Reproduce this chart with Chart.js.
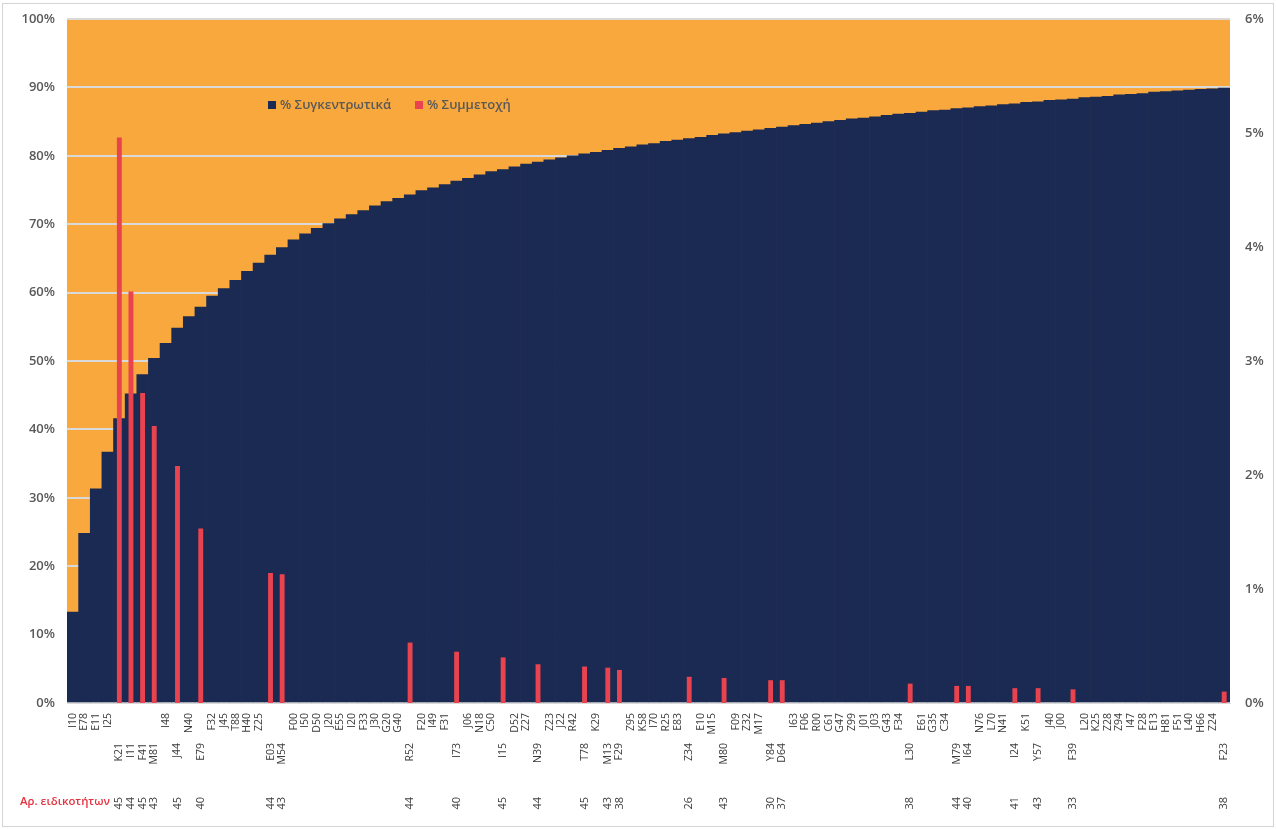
<!DOCTYPE html>
<html lang="el">
<head>
<meta charset="UTF-8">
<title>Συγκεντρωτικά ποσοστά ανά διάγνωση</title>
<script src="https://cdn.jsdelivr.net/npm/chart.js"></script>
<style>
    html, body { margin: 0; padding: 0; background: #fff; }
    .frame {
        position: absolute; left: 2px; top: 3px;
        width: 1272px; height: 824px;
        border: 1px solid #d4d4d4; box-sizing: border-box;
    }
    canvas { display: block; }
</style>
</head>
<body>
<div class="frame"><canvas id="paretoChart"></canvas></div>
<script>
// Diagnosis codes, in chart order
const codes = [
    'I10','E78','E11','I25','K21','I11','F41','M81','I48','J44',
    'N40','E79','F32','J45','T88','H40','Z25','E03','M54','F00',
    'I50','D50','J20','E55','I20','F33','J30','G20','G40','R52',
    'F20','I49','F31','I73','J06','N18','C50','I15','D52','Z27',
    'N39','Z23','J22','R42','T78','K29','M13','F29','Z95','K58',
    'I70','R25','E83','Z34','E10','M15','M80','F09','Z32','M17',
    'Y84','D64','I63','F06','R00','C61','G47','Z99','J01','J03',
    'G43','F34','L30','E61','G35','C34','M79','I64','N76','L70',
    'N41','I24','K51','Y57','J40','J00','F39','L20','K25','Z28',
    'Z94','I47','F28','E13','H81','F51','L40','H66','Z24','F23'
];

// % Συγκεντρωτικά (left axis)
const cumulative = [
    13.3, 24.8, 31.3, 36.7, 41.6, 45.2, 48.0, 50.4, 52.6, 54.8,
    56.5, 57.9, 59.5, 60.6, 61.8, 63.1, 64.3, 65.5, 66.6, 67.7,
    68.6, 69.4, 70.1, 70.8, 71.4, 72.0, 72.7, 73.3, 73.8, 74.3,
    74.9, 75.3, 75.8, 76.3, 76.7, 77.2, 77.7, 78.0, 78.4, 78.8,
    79.1, 79.4, 79.7, 80.0, 80.3, 80.5, 80.8, 81.1, 81.3, 81.6,
    81.8, 82.1, 82.3, 82.5, 82.7, 83.0, 83.2, 83.4, 83.6, 83.8,
    84.0, 84.2, 84.4, 84.6, 84.8, 85.0, 85.2, 85.4, 85.5, 85.7,
    85.9, 86.1, 86.2, 86.4, 86.6, 86.7, 86.9, 87.0, 87.2, 87.3,
    87.5, 87.6, 87.8, 87.9, 88.1, 88.2, 88.3, 88.5, 88.6, 88.7,
    88.9, 89.0, 89.1, 89.3, 89.4, 89.5, 89.6, 89.7, 89.8, 89.9
];

// % Συμμετοχή (right axis), only for some codes
const share = [
    null, null, null, null, 4.96, 3.61, 2.72, 2.43, null, 2.08,
    null, 1.53, null, null, null, null, null, 1.14, 1.13, null,
    null, null, null, null, null, null, null, null, null, 0.53,
    null, null, null, 0.45, null, null, null, 0.40, null, null,
    0.34, null, null, null, 0.32, null, 0.31, 0.29, null, null,
    null, null, null, 0.23, null, null, 0.22, null, null, null,
    0.20, 0.20, null, null, null, null, null, null, null, null,
    null, null, 0.17, null, null, null, 0.15, 0.15, null, null,
    null, 0.13, null, 0.13, null, null, 0.12, null, null, null,
    null, null, null, null, null, null, null, null, null, 0.10
];

// Αρ. ειδικοτήτων
const specialties = [
    null, null, null, null, 45, 44, 45, 43, null, 45,
    null, 40, null, null, null, null, null, 44, 43, null,
    null, null, null, null, null, null, null, null, null, 44,
    null, null, null, 40, null, null, null, 45, null, null,
    44, null, null, null, 45, null, 43, 38, null, null,
    null, null, null, 26, null, null, 43, null, null, null,
    30, 37, null, null, null, null, null, null, null, null,
    null, null, 38, null, null, null, 44, 40, null, null,
    null, 41, null, 43, null, null, 33, null, null, null,
    null, null, null, null, null, null, null, null, null, 38
];

const ORANGE = '#F8A83D';
const NAVY = '#1B2A53';
const RED = '#E8434F';
const GRID = '#D9D9D9';
const TEXT = '#595959';
const LABEL = '#3a3a3a';
const FONT = "'Open Sans', sans-serif";

// orange fill behind the plot area
const plotBackground = {
    id: 'plotBackground',
    beforeDraw(chart) {
        const { ctx, chartArea: a } = chart;
        ctx.save();
        ctx.fillStyle = ORANGE;
        ctx.fillRect(a.left, a.top, a.right - a.left, a.bottom - a.top);
        ctx.restore();
    }
};

// legend inside the plot + row title for the specialties row
const extras = {
    id: 'extras',
    afterDraw(chart) {
        const { ctx, chartArea: a } = chart;
        const ds = chart.data.datasets;
        ctx.save();
        ctx.font = '600 13px ' + FONT;
        ctx.textBaseline = 'middle';
        ctx.textAlign = 'left';
        let x = a.left + 201;
        const y = a.top + 86;
        [ds[1], ds[0]].forEach(d => {
            ctx.fillStyle = d.backgroundColor;
            ctx.fillRect(x, y - 4, 8, 8);
            ctx.fillStyle = TEXT;
            ctx.fillText(d.label, x + 12, y);
            x += 147;
        });
        const x3 = chart.scales.x3;
        ctx.font = '600 11.4px ' + FONT;
        ctx.fillStyle = '#E5323F';
        ctx.fillText('Αρ. ειδικοτήτων', 17, x3.top + 16);
        ctx.restore();
    }
};

// keep the plot top where the reference has it
function noVerticalPadding(s) {
    s.paddingTop = 0;
    s.paddingBottom = 0;
}

const ctx = document.getElementById('paretoChart').getContext('2d');
new Chart(ctx, {
    type: 'bar',
    data: {
        labels: codes,
        datasets: [
            {
                label: '% Συμμετοχή',
                data: share,
                yAxisID: 'y1',
                backgroundColor: RED,
                barPercentage: 0.42,
                categoryPercentage: 1,
                grouped: false,
                order: 0
            },
            {
                label: '% Συγκεντρωτικά',
                data: cumulative,
                yAxisID: 'y',
                backgroundColor: NAVY,
                barPercentage: 1,
                categoryPercentage: 1,
                grouped: false,
                order: 1
            }
        ]
    },
    options: {
        responsive: true,
        maintainAspectRatio: false,
        animation: false,
        layout: { padding: { top: 15, left: 0, right: 0, bottom: 0 } },
        plugins: { legend: { display: false }, tooltip: { enabled: false } },
        scales: {
            x: {
                weight: 0,
                grid: { display: false, drawTicks: false },
                border: { color: GRID },
                afterFit(s) { s.height = 36; },
                ticks: {
                    autoSkip: false, minRotation: 90, maxRotation: 90, padding: 10,
                    color: LABEL, font: { family: FONT, size: 10.5 },
                    callback: (v, i) => share[i] == null ? codes[i] : ''
                }
            },
            x2: {
                type: 'category', position: 'bottom', weight: 1, offset: true,
                labels: codes,
                grid: { display: false, drawTicks: false },
                border: { display: false },
                afterFit(s) { s.height = 47; },
                ticks: {
                    autoSkip: false, minRotation: 90, maxRotation: 90, padding: 4,
                    color: LABEL, font: { family: FONT, size: 10.5 },
                    callback: (v, i) => share[i] == null ? '' : codes[i]
                }
            },
            x3: {
                type: 'category', position: 'bottom', weight: 2, offset: true,
                labels: codes,
                grid: { display: false, drawTicks: false },
                border: { display: false },
                afterFit(s) { s.height = 40; },
                ticks: {
                    autoSkip: false, minRotation: 90, maxRotation: 90, padding: 11,
                    color: LABEL, font: { family: FONT, size: 11 },
                    callback: (v, i) => specialties[i] == null ? '' : String(specialties[i])
                }
            },
            y: {
                position: 'left',
                min: 0, max: 100,
                grid: { color: GRID, lineWidth: 2, drawTicks: false },
                border: { display: false },
                afterFit(s) { s.width = 64; noVerticalPadding(s); },
                ticks: {
                    stepSize: 10, padding: 12, color: TEXT,
                    font: { family: FONT, size: 13, weight: '600' },
                    callback: v => v + '%'
                }
            },
            y1: {
                position: 'right',
                min: 0, max: 6,
                grid: { display: false, drawTicks: false },
                border: { display: false },
                afterFit(s) { s.width = 43; noVerticalPadding(s); },
                ticks: {
                    stepSize: 1, padding: 15, color: TEXT,
                    font: { family: FONT, size: 13, weight: '600' },
                    callback: v => v + '%'
                }
            }
        }
    },
    plugins: [plotBackground, extras]
});
</script>
</body>
</html>
